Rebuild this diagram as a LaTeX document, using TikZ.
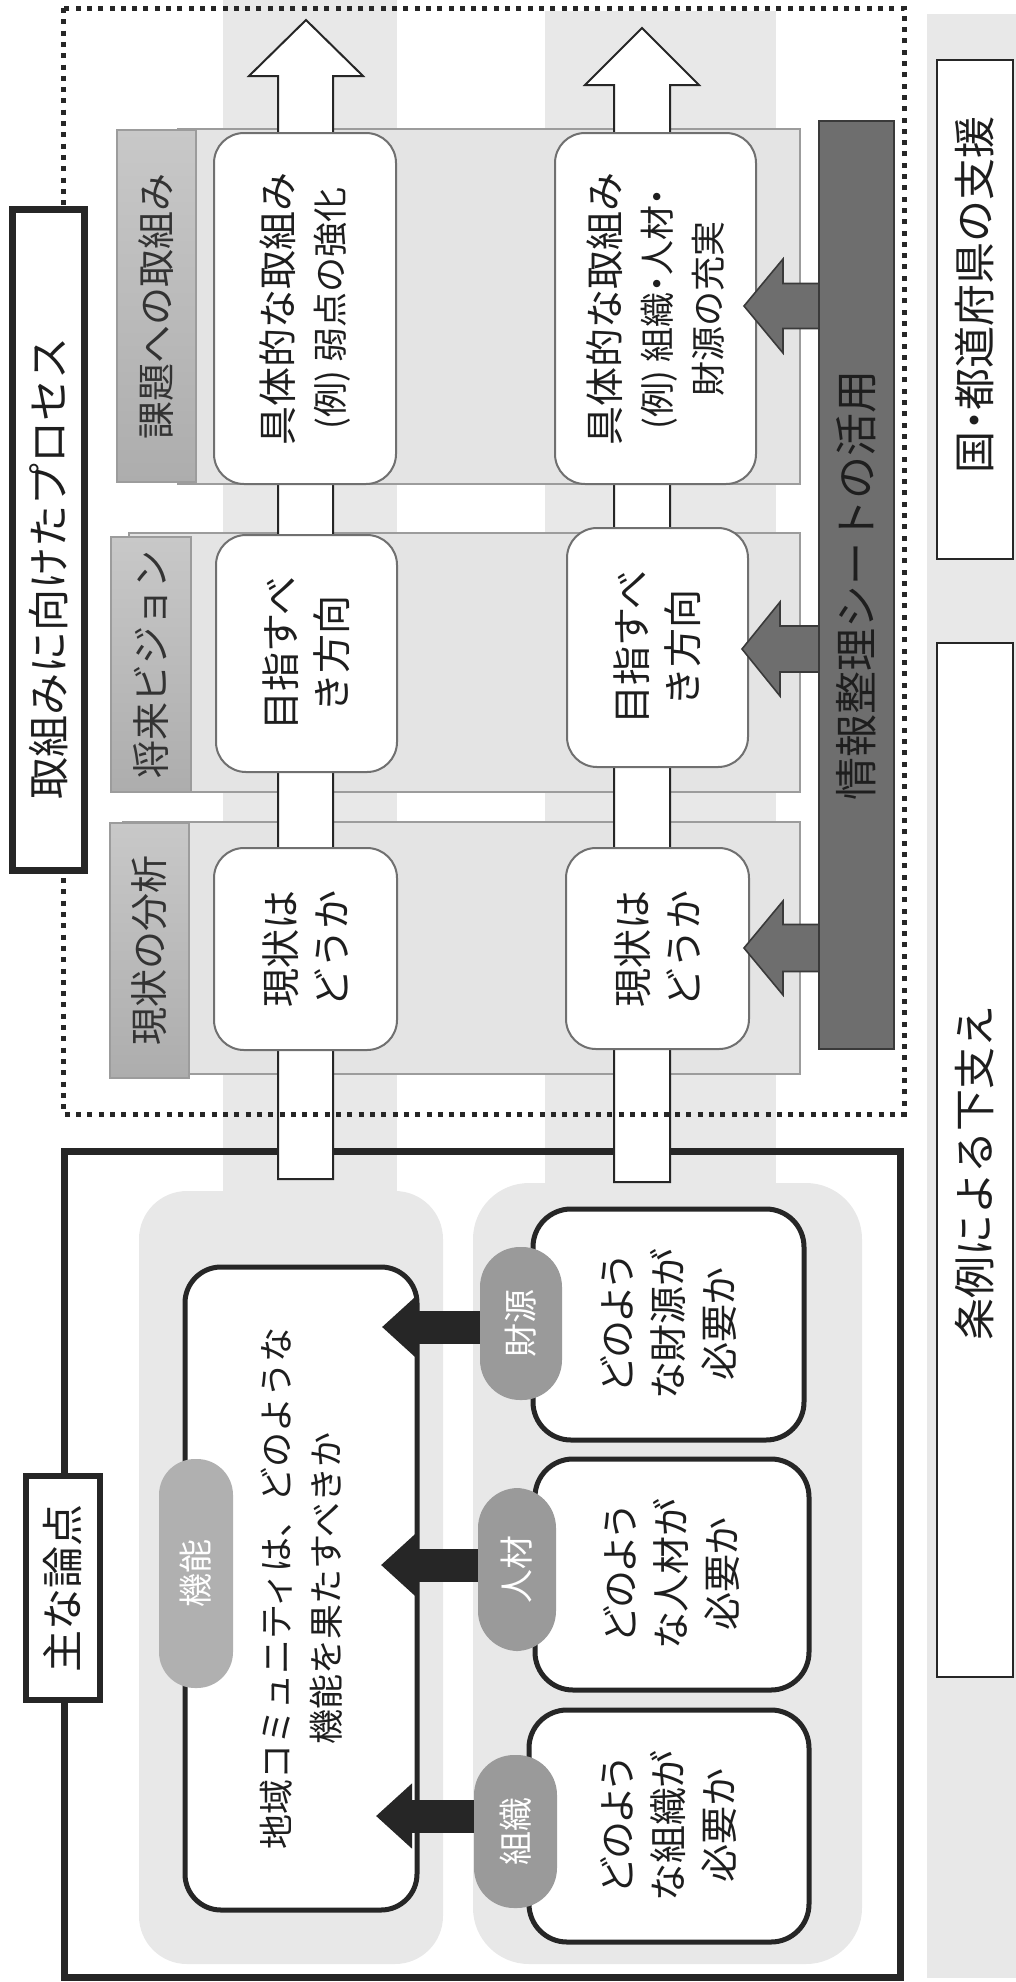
\documentclass[tikz,border=0pt]{standalone}
\usepackage{fontspec}
\setmainfont[RawFeature={+palt}]{Noto Sans CJK JP}
\newfontfamily\jpfull{Noto Sans CJK JP}
\usetikzlibrary{arrows.meta,calc}
\definecolor{bandgray}{HTML}{E8E8E8}
\definecolor{panelgray}{HTML}{E4E4E4}
\definecolor{panelline}{HTML}{9C9C9C}
\definecolor{tabL}{HTML}{C8C8C8}
\definecolor{tabR}{HTML}{ADADAD}
\definecolor{boxline}{HTML}{707070}
\definecolor{barfill}{HTML}{6E6E6E}
\definecolor{barline}{HTML}{3A3A3A}
\definecolor{blk}{HTML}{262626}
\definecolor{pillgray}{HTML}{9A9A9A}
\definecolor{pilllight}{HTML}{B0B0B0}
\definecolor{txt}{HTML}{1E1E1E}
\definecolor{tabtxt}{HTML}{333333}
\newcommand\mkbox[7]{%
  \pgfmathsetmacro\mkW{(#6-#4)*0.5}%
  \pgfmathsetmacro\mkH{(#5-#3)*0.5}%
  \node[#1,rotate=90,minimum width=\mkW pt,minimum height=\mkH pt,inner sep=0pt,outer sep=0pt] (#2) at ({(#3+#5)/2},{(#4+#6)/2}) {#7};%
}
\newcommand\exfont{\jpfull\fontsize{17.5}{25.5}\selectfont}
\newcommand\pdot{{\rmfamily ・}}
\tikzset{
  panel/.style={fill=panelgray,draw=panelline,line width=0.6pt},
  tabbox/.style={draw=panelline,line width=0.6pt,top color=tabL,bottom color=tabR,text=tabtxt,font=\jpfull\fontsize{19}{22}\selectfont},
  ubox/.style={draw=boxline,line width=1pt,fill=white,rounded corners=15pt,align=center,text=txt,font=\jpfull\fontsize{19.5}{25.5}\selectfont},
  lbox/.style={draw=blk,line width=2.5pt,fill=white,rounded corners=19pt,align=center,text=txt,font=\fontsize{19}{25.5}\selectfont},
  warrow/.style={draw=blk,line width=1pt,fill=white,line join=miter},
  darrow/.style={draw=barline,line width=0.8pt,fill=barfill,line join=miter},
  karrow/.style={draw=blk,line width=16.5pt,-{Triangle[length=18pt,width=31.5pt]}},
  barbox/.style={draw=barline,line width=0.8pt,fill=barfill,text=txt,font=\jpfull\fontsize{21.5}{25}\selectfont},
  rbox/.style={draw=blk,line width=0.8pt,fill=white},
  pill/.style={fill=pillgray,rounded corners=20pt,text=white,font=\fontsize{17}{20}\selectfont},
  pillb/.style={fill=pilllight,rounded corners=18pt,text=white,font=\fontsize{17}{20}\selectfont},
  labbox/.style={draw=blk,fill=white,text=txt,font=\jpfull\fontsize{21}{25}\selectfont},
  titletext/.style={rotate=90,text=txt,font=\jpfull\fontsize{21}{25}\selectfont,inner sep=0pt},
  dotframe/.style={draw=blk,line width=2.5pt,dash pattern=on 2.5pt off 3.15pt},
}
\begin{document}
\begin{tikzpicture}[x=0.5pt,y=-0.5pt]
\useasboundingbox (0,0) rectangle (1016,1982);
% background bands
\fill[bandgray] (223,0) rectangle (397,1205);
\fill[bandgray] (545,11) rectangle (776,1200);
\fill[bandgray,rounded corners=24pt] (139,1191) rectangle (443,1964);
\fill[bandgray,rounded corners=28pt] (473,1183) rectangle (862,1964);
\fill[bandgray] (927,14) rectangle (1016,1978);
% main frame
\draw[blk,line width=3.25pt] (64.5,1151.5) rectangle (900.5,1977.5);
% panels
\draw[panel] (178,129) rectangle (800,484);
\draw[panel] (129,533) rectangle (800,792);
\draw[panel] (123,822) rectangle (800,1074);
% tabs
\mkbox{tabbox}{t1}{117}{130}{196}{482}{課題への取組み}
\mkbox{tabbox}{t2}{111}{537}{191}{792}{将来ビジョン}
\mkbox{tabbox}{t3}{110}{823}{189}{1078}{現状の分析}
% white process arrows
\draw[warrow] (306,20) -- (363,76) -- (333,76) -- (333,1179) -- (278,1179) -- (278,76) -- (249,76) -- cycle;
\draw[warrow] (642,28) -- (699,85) -- (670,85) -- (670,1182) -- (614,1182) -- (614,85) -- (585,85) -- cycle;
% upper boxes
\mkbox{ubox}{a1}{214}{133}{396}{484}{具体的な取組み\\{\exfont (例) 弱点の強化}}
\mkbox{ubox}{a2}{555}{133}{756}{484}{具体的な取組み\\{\exfont (例) 組織\pdot 人材\pdot}\\{\exfont 財源の充実}}
\mkbox{ubox}{b1}{216}{535}{397}{772}{目指すべ\\き方向}
\mkbox{ubox}{b2}{567}{528}{748}{767}{目指すべ\\き方向}
\mkbox{ubox}{c1}{214}{848}{397}{1050}{現状は\\どうか}
\mkbox{ubox}{c2}{566}{848}{749}{1049}{現状は\\どうか}
% arrows from the sheet bar
\coordinate (da1) at (744,306);
\coordinate (da2) at (742,649);
\coordinate (da3) at (744,948);
\draw[darrow] (da1) -- ++(39,-47) -- ++(0,24.5) -- ++(38,0) -- ++(0,45) -- ++(-38,0) -- ++(0,24.5) -- cycle;
\draw[darrow] (da2) -- ++(38,-47) -- ++(0,24) -- ++(40,0) -- ++(0,46) -- ++(-40,0) -- ++(0,24) -- cycle;
\draw[darrow] (da3) -- ++(39,-47) -- ++(0,23.5) -- ++(38,0) -- ++(0,47) -- ++(-38,0) -- ++(0,23.5) -- cycle;
% sheet bar
\mkbox{barbox}{bar}{819}{121}{894}{1049}{情報整理シートの活用}
% right column
\mkbox{rbox}{r1}{937}{60}{1013}{559}{}
\node[titletext] (r1t) at (975,295) {国\pdot 都道府県の支援};
\mkbox{rbox}{r2}{937}{643}{1013}{1677}{}
\node[titletext] (r2t) at (975,1173) {条例による下支え};
% lower boxes
\mkbox{lbox,rounded corners=18pt,font=\jpfull\fontsize{17.5}{25}\selectfont}{m}{185}{1267}{417}{1910}{地域コミュニティは、どのような\\機能を果たすべきか}
\mkbox{lbox}{s1}{533}{1209}{804}{1440}{どのよう\\な財源が\\必要か}
\mkbox{lbox}{s2}{535}{1459}{809}{1690}{どのよう\\な人材が\\必要か}
\mkbox{lbox}{s3}{529}{1710}{809}{1942}{どのよう\\な組織が\\必要か}
% black arrows from the pills
\coordinate (p1c) at (521,1323.5);
\coordinate (p2c) at (517,1569.5);
\coordinate (p3c) at (515.5,1831.5);
\coordinate (k1) at (382,1327);
\coordinate (k2) at (381,1565);
\coordinate (k3) at (376,1816);
\draw[karrow] (k1 -| p1c) -- (k1);
\draw[karrow] (k2 -| p2c) -- (k2);
\draw[karrow] (k3 -| p3c) -- (k3);
% pills
\mkbox{pill}{p1}{480}{1247}{562}{1400}{財源}
\mkbox{pill}{p2}{478}{1488}{556}{1651}{人材}
\mkbox{pill}{p3}{474}{1755}{557}{1908}{組織}
\mkbox{pillb}{p0}{159}{1459}{233}{1688}{機能}
% dotted frame
\draw[dotframe] (63.5,8) rectangle (904,1114);
% title boxes
\mkbox{labbox,line width=3.5pt}{L1}{12.5}{209.5}{84.5}{870.5}{}
\node[titletext] (L1t) at (48.5,568) {取組みに向けたプロセス};
\mkbox{labbox,line width=3pt}{L2}{26}{1476}{100}{1700}{主な論点}
\end{tikzpicture}
\end{document}
